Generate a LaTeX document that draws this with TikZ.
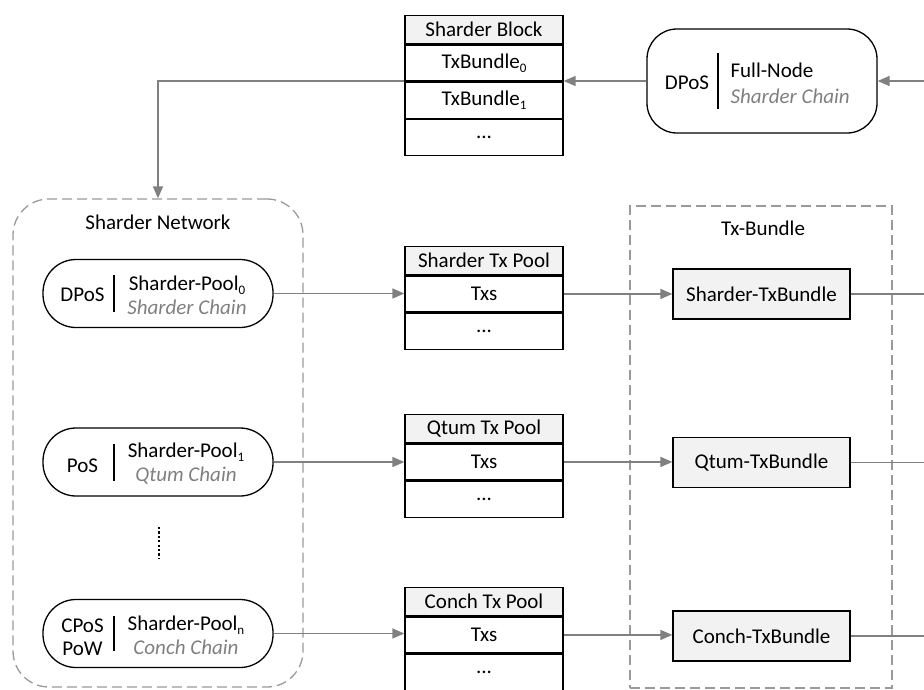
\documentclass[tikz,border=0pt]{standalone}
\usepackage{fontspec}
\setmainfont{Carlito}
\usetikzlibrary{arrows.meta}
\definecolor{lgray}{HTML}{808080}
\definecolor{dgray}{HTML}{9A9A9A}
\definecolor{hfill}{HTML}{F2F2F2}
\newcommand\subsc[1]{\raisebox{-0.4ex}{\fontsize{13}{13}\selectfont #1}}
\begin{document}
\begin{tikzpicture}[x=1pt,y=-1pt,
  font=\fontsize{21}{24}\selectfont,
  cell/.style={draw=black, line width=1.3pt, minimum width=158pt, minimum height=36pt, inner sep=0pt, anchor=north},
  headcell/.style={cell, fill=hfill, minimum height=28pt},
  pill/.style={draw=black, line width=1.3pt, rounded corners=33pt, minimum width=230pt, minimum height=68pt, inner sep=0pt},
  bundlebox/.style={draw=black, line width=1.3pt, fill=hfill, minimum width=177pt, minimum height=50pt, inner sep=0pt},
  groupbox/.style={draw=dgray, line width=1.3pt, dash pattern=on 10pt off 5pt, inner sep=0pt},
  arr/.style={draw=lgray, line width=1.5pt, -{Triangle[length=12pt,width=10pt]}},
  conn/.style={draw=lgray, line width=1.5pt},
  divider/.style={draw=black, line width=1.3pt},
]
\useasboundingbox (0,0) rectangle (924,689);

% ---------- Sharder Block ----------
\node[headcell] (sbh) at (484,15) {Sharder Block};
\node[cell] (sb0) at (sbh.south) {TxBundle\subsc{0}};
\node[cell] (sb1) at (sb0.south) {TxBundle\subsc{1}};
\node[cell] (sb2) at (sb1.south) {...};

% ---------- Full-Node ----------
\node[draw=black, line width=1.3pt, rounded corners=30pt, minimum width=230pt, minimum height=104pt, inner sep=0pt] (fn) at (762,81) {};
\node (fna) at (687,83) {DPoS};
\draw[divider] (718,53) -- (718,109);
\node[anchor=west, align=left, font=\fontsize{21}{26}\selectfont] (fnb) at (727,83) {Full-Node\\\textcolor{lgray}{\itshape Sharder Chain}};
\coordinate (fin) at (924,81);

% ---------- Sharder Network ----------
\node[groupbox, rounded corners=36pt, minimum width=290pt, minimum height=488pt] (snet) at (158,443) {};
\node (snett) at (158,222) {Sharder Network};

\node[pill] (p0) at (158,293.5) {};
\node (p0a) at (82.5,295) {DPoS};
\draw[divider] (114,275) -- (114,312);
\node[align=center] (p0b) at (187,295) {Sharder-Pool\subsc{0}\\\textcolor{lgray}{\itshape Sharder Chain}};

\node[pill] (p1) at (158,462) {};
\node (p1a) at (82.5,466) {PoS};
\draw[divider] (114,444) -- (114,481);
\node[align=center] (p1b) at (186,464) {Sharder-Pool\subsc{1}\\\textcolor{lgray}{\itshape Qtum Chain}};

\node[pill] (pn) at (158,633.5) {};
\node[align=center, font=\fontsize{21}{23}\selectfont] (pna) at (82.5,637) {CPoS\\PoW};
\draw[divider] (114,616) -- (114,651);
\node[align=center] (pnb) at (186,635) {Sharder-Pool\subsc{n}\\\textcolor{lgray}{\itshape Conch Chain}};

\draw[line width=2.6pt, dash pattern=on 2.2pt off 2.2pt] (159,527) -- (159,559);

% ---------- Tx Pools ----------
\node[headcell] (s0h) at (484,246) {Sharder Tx Pool};
\node[cell] (s0t) at (s0h.south) {Txs};
\node[cell] (s0d) at (s0t.south) {...};

\node[headcell] (s1h) at (484,414) {Qtum Tx Pool};
\node[cell] (s1t) at (s1h.south) {Txs};
\node[cell] (s1d) at (s1t.south) {...};

\node[headcell] (s2h) at (484,587) {Conch Tx Pool};
\node[cell] (s2t) at (s2h.south) {Txs};
\node[cell] (s2d) at (s2t.south) {...};

% ---------- Tx-Bundle ----------
\node[groupbox, minimum width=262pt, minimum height=482pt] (tbg) at (761,447) {};
\node (tbgt) at (763,228) {Tx-Bundle};

\node[bundlebox] (b0) at (761.5,294) {Sharder-TxBundle};
\node[bundlebox] (b1) at (761.5,462.5) {Qtum-TxBundle};
\node[bundlebox] (b2) at (761.5,636) {Conch-TxBundle};

\coordinate (e0) at (924,294);
\coordinate (e1) at (924,462.5);
\coordinate (e2) at (924,636);

% ---------- connectors ----------
\draw[arr] (fin) -- (fn.east);
\draw[arr] (fn.west) -- (fn.west -| sb0.east);
\draw[arr] (fn.west -| sb0.west) -| (snet.north);

\draw[arr] (p0.east) -- (p0.east -| s0t.west);
\draw[arr] (p1.east) -- (p1.east -| s1t.west);
\draw[arr] (pn.east) -- (pn.east -| s2t.west);

\draw[arr] (s0t.east -| s0t.east) -- (s0t.east -| b0.west);
\draw[arr] (s1t.east) -- (s1t.east -| b1.west);
\draw[arr] (s2t.east) -- (s2t.east -| b2.west);

\draw[conn] (b0.east) -- (e0);
\draw[conn] (b1.east) -- (e1);
\draw[conn] (b2.east) -- (e2);
\end{tikzpicture}
\end{document}
